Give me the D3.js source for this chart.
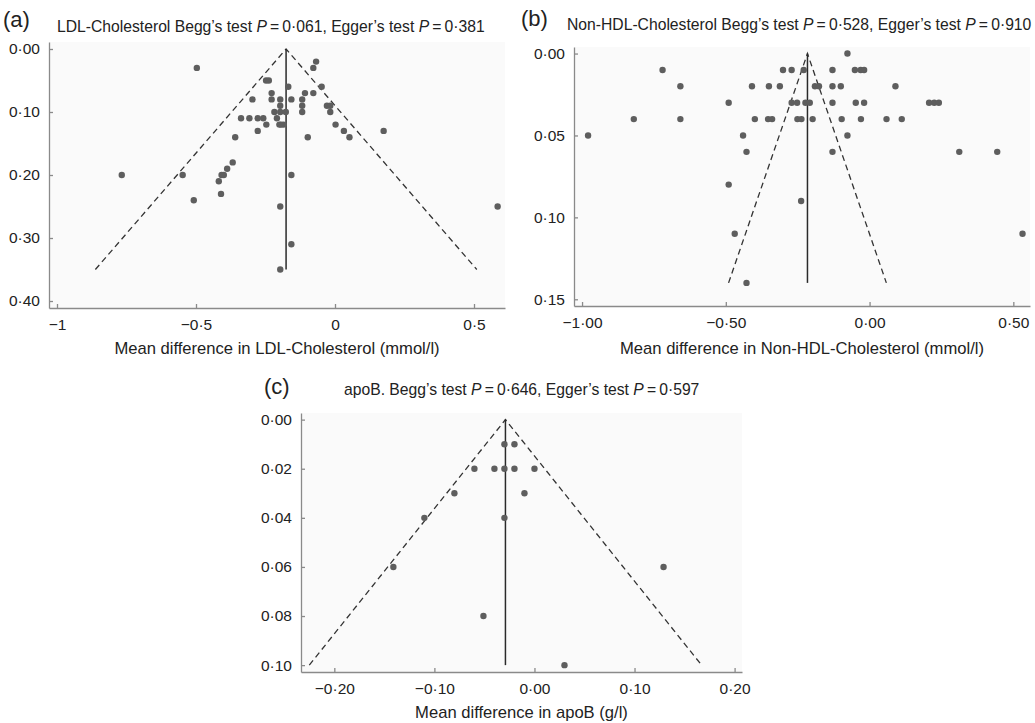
<!DOCTYPE html>
<html>
  <head>
    <meta charset="utf-8">
    <title>Funnel plots</title>
    <style>
    body { margin: 0; background: #fff; }
    text { font-family: "Liberation Sans", Arial, sans-serif; fill: #222; }
    .axis path, .axis line { stroke: #8a8a8a; stroke-width: 1.3; }
    .dot { fill: #5e5e5e; }
    </style>
  </head>
  <body>
    <svg width="1035" height="723"></svg>
    <script src="https://d3js.org/d3.v7.min.js"></script>
    <script>

      // [mean difference, standard error] for each study
      var ldlPoints = [
        [-0.497,0.03],[-0.068,0.02],[-0.078,0.03],[-0.248,0.05],[-0.238,0.05],[-0.048,0.06],
        [-0.168,0.06],[-0.228,0.07],[-0.108,0.07],[-0.078,0.07],[-0.297,0.08],[-0.228,0.08],
        [-0.197,0.08],[-0.157,0.08],[-0.118,0.08],[-0.197,0.09],[-0.118,0.09],[-0.029,0.09],
        [-0.017,0.09],[-0.218,0.10],[-0.197,0.10],[-0.177,0.10],[-0.118,0.10],[-0.017,0.10],
        [-0.209,0.11],[-0.338,0.11],[-0.308,0.11],[-0.278,0.11],[-0.258,0.11],[-0.247,0.12],
        [-0.200,0.12],[-0.194,0.12],[-0.185,0.12],[0.002,0.12],[-0.278,0.13],[0.032,0.13],
        [0.175,0.13],[0.052,0.14],[-0.098,0.14],[-0.359,0.14],[-0.368,0.18],[-0.388,0.19],
        [-0.408,0.20],[-0.400,0.20],[-0.548,0.20],[-0.767,0.20],[-0.157,0.20],[-0.418,0.21],
        [-0.410,0.23],[-0.508,0.24],[-0.197,0.25],[0.585,0.25],[-0.157,0.31],[-0.197,0.35]
      ];
      var nonHdlPoints = [
        [-0.077,0.00],
        [-0.720,0.01],[-0.301,0.01],[-0.271,0.01],[-0.229,0.01],[-0.129,0.01],[-0.051,0.01],[-0.031,0.01],[-0.019,0.01],
        [-0.658,0.02],[-0.409,0.02],[-0.350,0.02],[-0.312,0.02],[-0.190,0.02],[-0.176,0.02],[-0.129,0.02],[-0.100,0.02],[0.090,0.02],
        [-0.490,0.03],[-0.271,0.03],[-0.252,0.03],[-0.223,0.03],[-0.208,0.03],[-0.129,0.03],[-0.048,0.03],[-0.019,0.03],
        [0.207,0.03],[0.225,0.03],[0.241,0.03],
        [-0.820,0.04],[-0.658,0.04],[-0.399,0.04],[-0.353,0.04],[-0.339,0.04],[-0.251,0.04],[-0.237,0.04],[-0.198,0.04],
        [-0.097,0.04],[-0.030,0.04],[0.059,0.04],[0.112,0.04],
        [-0.979,0.05],[-0.440,0.05],[-0.077,0.05],
        [-0.428,0.06],[-0.129,0.06],[0.312,0.06],[0.444,0.06],
        [-0.490,0.08],[-0.238,0.09],[-0.469,0.11],[0.532,0.11],[-0.428,0.14]
      ];
      var apoBPoints = [
        [-0.030,0.01],[-0.020,0.01],
        [-0.060,0.02],[-0.040,0.02],[-0.030,0.02],[-0.020,0.02],[0.000,0.02],
        [-0.080,0.03],[-0.010,0.03],
        [-0.110,0.04],[-0.030,0.04],
        [-0.141,0.06],[0.129,0.06],[-0.051,0.08],[0.030,0.10]
      ];

      // pooled estimate and largest standard error of the funnel
      var ldlPooled = -0.176, ldlMaxSE = 0.35;
      var nonHdlPooled = -0.216, nonHdlMaxSE = 0.14;
      var apoBPooled = -0.029, apoBMaxSE = 0.10;

      var ldlXTicks = [-1, -0.5, 0, 0.5], ldlYTicks = [0, 0.1, 0.2, 0.3, 0.4];
      var nonHdlXTicks = [-1, -0.5, 0, 0.5], nonHdlYTicks = [0, 0.05, 0.1, 0.15];
      var apoBXTicks = [-0.2, -0.1, 0, 0.1, 0.2], apoBYTicks = [0, 0.02, 0.04, 0.06, 0.08, 0.1];

      var svg = d3.select("svg");

      function fmt(spec) {
        var f = d3.format(spec);
        return function(d) { return f(d).replace(".", "\u00b7").replace("-", "\u2212"); };
      }

      function styleTicks(a) {
        a.selectAll("text").attr("font-size", 15.5).attr("font-family", null).attr("fill", "#222");
      }

      function funnel(p) {
        var g = svg.append("g");
        var x = d3.scaleLinear().domain(p.xDomain).range([p.left, p.right]),
            y = d3.scaleLinear().domain(p.yDomain).range([p.top, p.bottom]);

        g.append("rect")
            .attr("x", p.left).attr("y", p.top)
            .attr("width", p.right - p.left).attr("height", p.bottom - p.top)
            .attr("fill", "#fafafa");

        g.append("g")
            .attr("class", "axis")
            .attr("transform", "translate(0," + p.bottom + ")")
            .call(d3.axisBottom(x).tickValues(p.xTicks).tickFormat(fmt(p.xFormat))
                .tickSizeInner(-4).tickSizeOuter(0).tickPadding(11))
            .call(styleTicks);

        g.append("g")
            .attr("class", "axis")
            .attr("transform", "translate(" + p.left + ",0)")
            .call(d3.axisLeft(y).tickValues(p.yTicks).tickFormat(fmt(".2f"))
                .tickSizeInner(-4).tickSizeOuter(0).tickPadding(9))
            .call(styleTicks);

        var se = p.maxSE;
        g.append("path")
            .attr("d", d3.line()([[x(p.pooled - 1.96 * se), y(se)], [x(p.pooled), y(0)], [x(p.pooled + 1.96 * se), y(se)]]))
            .attr("fill", "none")
            .attr("stroke", "#333")
            .attr("stroke-width", 1.3)
            .attr("stroke-dasharray", "6,4");

        g.append("line")
            .attr("x1", x(p.pooled)).attr("x2", x(p.pooled))
            .attr("y1", y(0)).attr("y2", y(se))
            .attr("stroke", "#2a2a2a")
            .attr("stroke-width", 1.5);

        g.selectAll(".dot")
          .data(p.points)
          .enter().append("circle")
            .attr("class", "dot")
            .attr("cx", function(d) { return x(d[0]); })
            .attr("cy", function(d) { return y(d[1]); })
            .attr("r", 3.2);

        svg.append("text")
            .attr("x", p.labelX).attr("y", p.labelY)
            .attr("font-size", 22)
            .text(p.label);

        var t = svg.append("text")
            .attr("x", p.titleX).attr("y", p.titleY)
            .attr("font-size", 15.7);
        t.append("tspan").text(p.name + " Begg\u2019s test ");
        t.append("tspan").attr("font-style", "italic").text("P");
        t.append("tspan").text("\u2009=\u20090\u00b7" + p.begg + ", Egger\u2019s test ");
        t.append("tspan").attr("font-style", "italic").text("P");
        t.append("tspan").text("\u2009=\u20090\u00b7" + p.egger);

        svg.append("text")
            .attr("x", (p.left + p.right) / 2).attr("y", p.xLabelY)
            .attr("text-anchor", "middle")
            .attr("font-size", 16.6)
            .text(p.xLabel);
      }

      funnel({
        points: ldlPoints, pooled: ldlPooled, maxSE: ldlMaxSE,
        left: 49, right: 505, top: 42, bottom: 308,
        xDomain: [-1.0288, 0.6115], yDomain: [-0.0111, 0.4111],
        xTicks: ldlXTicks, yTicks: ldlYTicks, xFormat: "",
        label: "(a)", labelX: 3, labelY: 27,
        name: "LDL-Cholesterol", begg: "061", egger: "381", titleX: 57, titleY: 32,
        xLabel: "Mean difference in LDL-Cholesterol (mmol/l)", xLabelY: 354
      });

      funnel({
        points: nonHdlPoints, pooled: nonHdlPooled, maxSE: nonHdlMaxSE,
        left: 574, right: 1030, top: 47, bottom: 306,
        xDomain: [-1.028, 0.558], yDomain: [-0.004, 0.1541],
        xTicks: nonHdlXTicks, yTicks: nonHdlYTicks, xFormat: ".2f",
        label: "(b)", labelX: 521, labelY: 26,
        name: "Non-HDL-Cholesterol", begg: "528", egger: "910", titleX: 567, titleY: 30,
        xLabel: "Mean difference in Non-HDL-Cholesterol (mmol/l)", xLabelY: 354
      });

      funnel({
        points: apoBPoints, pooled: apoBPooled, maxSE: apoBMaxSE,
        left: 301, right: 742, top: 413, bottom: 672,
        xDomain: [-0.2333, 0.2074], yDomain: [-0.0027, 0.1028],
        xTicks: apoBXTicks, yTicks: apoBYTicks, xFormat: ".2f",
        label: "(c)", labelX: 264, labelY: 394,
        name: "apoB.", begg: "646", egger: "597", titleX: 344, titleY: 395,
        xLabel: "Mean difference in apoB (g/l)", xLabelY: 718
      });

    </script>
  </body>
</html>
